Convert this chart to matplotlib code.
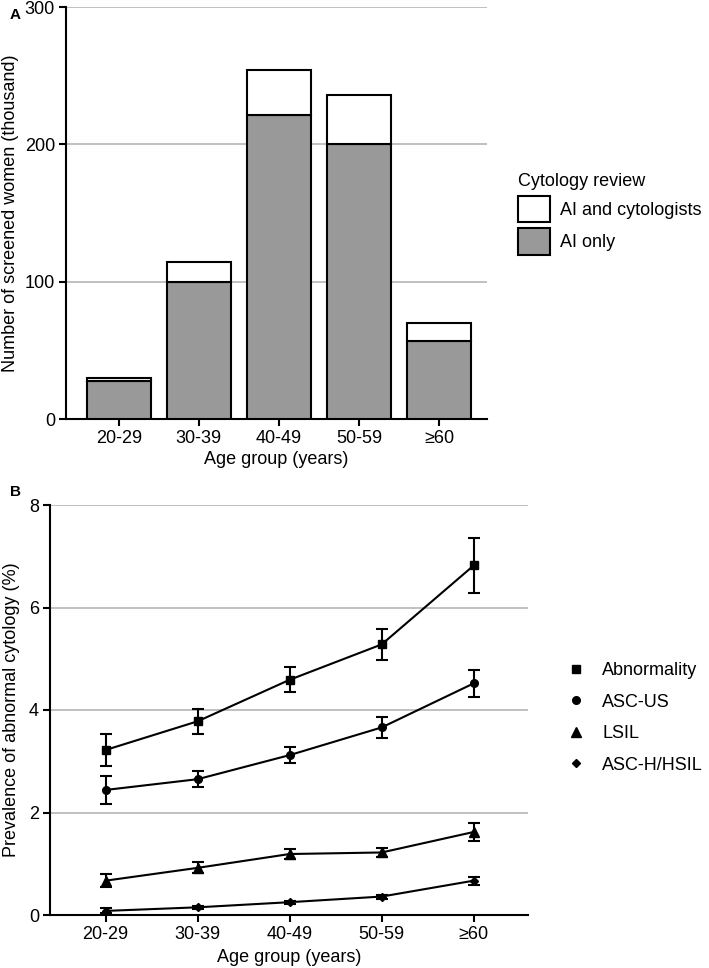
import matplotlib
matplotlib.use('Agg')
import matplotlib.pyplot as plt
import numpy as np

plt.rcParams['font.family'] = ['Liberation Sans', 'DejaVu Sans']

# datos panel A (miles de mujeres)
grupos = ['20-29', '30-39', '40-49', '50-59', '≥60']
solo_ia = [28, 100, 221, 200, 57]
total = [30, 114, 254, 236, 70]

# datos panel B (prevalencia %, con error)
abnormality = [3.22, 3.78, 4.59, 5.28, 6.82]
abnormality_err = [0.32, 0.24, 0.24, 0.31, 0.53]
asc_us = [2.44, 2.65, 3.12, 3.66, 4.52]
asc_us_err = [0.28, 0.16, 0.16, 0.21, 0.26]
lsil = [0.67, 0.92, 1.19, 1.22, 1.62]
lsil_err = [0.13, 0.11, 0.10, 0.09, 0.17]
hsil = [0.08, 0.15, 0.25, 0.36, 0.67]
hsil_err = [0.05, 0.03, 0.03, 0.04, 0.08]

gris = '#999999'
rejilla = '#b5b5b5'
fs = 13

fig = plt.figure(figsize=(7.09, 9.68), dpi=100)

# ---------- Panel A ----------
axA = fig.add_axes([66/709, 1-419/968, 421/709, 412/968])
x = np.arange(len(grupos))
extra = [t - s for t, s in zip(total, solo_ia)]
axA.bar(x, solo_ia, width=0.8, color=gris, edgecolor='black', linewidth=1.5,
        label='AI only', zorder=3)
axA.bar(x, extra, bottom=solo_ia, width=0.8, color='white', edgecolor='black',
        linewidth=1.5, label='AI and cytologists', zorder=3)
axA.set_xlim(-0.66, 4.6)
axA.set_ylim(0, 300)
axA.set_yticks([0, 100, 200, 300])
axA.set_xticks(x)
axA.set_xticklabels(grupos)
axA.yaxis.grid(True, color=rejilla, linewidth=1.2, zorder=0)
axA.set_axisbelow(True)
axA.set_ylabel('Number of screened women (thousand)', fontsize=fs, labelpad=4)
axA.set_xlabel('Age group (years)', fontsize=fs, labelpad=3)
h, l = axA.get_legend_handles_labels()
legA = axA.legend(h[::-1], l[::-1], title='Cytology review', loc='upper left',
                  bbox_to_anchor=(502/709, 1-157/968), bbox_transform=fig.transFigure,
                  frameon=False, fontsize=fs, title_fontsize=fs, alignment='left',
                  handlelength=1.75, handleheight=1.9, labelspacing=0.3,
                  handletextpad=0.55)

# ---------- Panel B ----------
axB = fig.add_axes([50/709, 1-915/968, 478/709, 410/968])
xb = np.arange(len(grupos))
series = [(abnormality, abnormality_err, 's', 'Abnormality', 5.5),
          (asc_us, asc_us_err, 'o', 'ASC-US', 5.5),
          (lsil, lsil_err, '^', 'LSIL', 6.5),
          (hsil, hsil_err, 'D', 'ASC-H/HSIL', 4)]
for vals, err, mk, nombre, ms in series:
    axB.errorbar(xb, vals, yerr=err, color='black', marker=mk, markersize=ms,
                 linewidth=1.5, elinewidth=1.5, capsize=4, capthick=1.5,
                 zorder=3)
    axB.plot([], [], linestyle='none', marker=mk, markersize=ms, color='black',
             label=nombre)
axB.set_xlim(-0.605, 4.59)
axB.set_ylim(0, 8)
axB.set_yticks([0, 2, 4, 6, 8])
axB.set_xticks(xb)
axB.set_xticklabels(grupos)
axB.yaxis.grid(True, color=rejilla, linewidth=1.2, zorder=0)
axB.set_axisbelow(True)
axB.set_ylabel('Prevalence of abnormal cytology (%)', fontsize=fs, labelpad=6)
axB.set_xlabel('Age group (years)', fontsize=fs, labelpad=4)
axB.legend(loc='upper left', bbox_to_anchor=(549/709, 1-646/968),
           bbox_transform=fig.transFigure, frameon=False, fontsize=fs,
           handlelength=1.2, handletextpad=0.85, labelspacing=0.8)

for ax in (axA, axB):
    ax.spines['top'].set_visible(False)
    ax.spines['right'].set_visible(False)
    ax.spines['left'].set_linewidth(1.5)
    ax.spines['bottom'].set_linewidth(1.5)
    ax.tick_params(axis='both', labelsize=fs, width=1.5, length=5, direction='out',
                   pad=3)

fig.text(10/709, 1-15/968, 'A', fontsize=11, fontweight='bold', va='center')
fig.text(10/709, 1-492/968, 'B', fontsize=11, fontweight='bold', va='center')

fig.savefig('out.png', dpi=100)
